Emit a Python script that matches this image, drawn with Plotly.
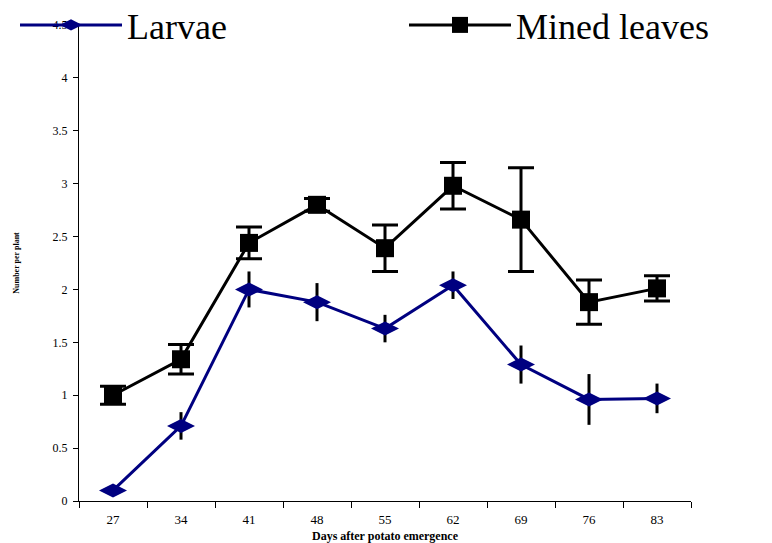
import plotly.graph_objects as go

days = ["27", "34", "41", "48", "55", "62", "69", "76", "83"]
larvae = [0.10, 0.71, 2.00, 1.88, 1.63, 2.04, 1.29, 0.96, 0.97]
larvae_err = [0.0, 0.13, 0.17, 0.18, 0.13, 0.13, 0.18, 0.24, 0.14]
mined = [1.00, 1.34, 2.44, 2.80, 2.39, 2.98, 2.66, 1.88, 2.01]
mined_err = [0.085, 0.14, 0.15, 0.06, 0.22, 0.22, 0.49, 0.21, 0.12]
y_ticks = [0, 0.5, 1, 1.5, 2, 2.5, 3, 3.5, 4, 4.5]

fig = go.Figure()
fig.add_trace(go.Scatter(
    x=days, y=larvae, name="Larvae", mode="lines+markers", legend="legend",
    line=dict(color="#000080", width=3),
    marker=dict(symbol="diamond-wide", size=20, color="#000080"),
    error_y=dict(type="data", array=larvae_err, color="black", thickness=3, width=0),
))
fig.add_trace(go.Scatter(
    x=days, y=mined, name="Mined leaves", mode="lines+markers", legend="legend2",
    line=dict(color="black", width=3),
    marker=dict(symbol="square", size=18, color="black"),
    error_y=dict(type="data", array=mined_err, color="black", thickness=3, width=13),
))

legend_font = dict(size=36, family="Liberation Serif", color="black")
fig.update_layout(
    width=772, height=543,
    margin=dict(l=79, r=81, t=25, b=42, autoexpand=False),
    paper_bgcolor="white", plot_bgcolor="white",
    font=dict(family="Liberation Serif", color="black"),
    showlegend=True,
    legend=dict(
        orientation="h", x=(15 - 79) / 612, xanchor="left", y=1.0, yanchor="middle",
        font=legend_font, bgcolor="rgba(0,0,0,0)", itemsizing="trace", itemwidth=102,
    ),
    legend2=dict(
        orientation="h", x=(404 - 79) / 612, xanchor="left", y=1.0, yanchor="middle",
        font=legend_font, bgcolor="rgba(0,0,0,0)", itemsizing="trace", itemwidth=102,
    ),
    xaxis=dict(
        type="category", range=[-0.5, 8.5],
        showline=True, linecolor="black", linewidth=1,
        ticks="outside", tickson="boundaries", ticklen=6, tickcolor="black",
        tickfont=dict(size=13, family="Liberation Serif"), ticklabelstandoff=6,
        showgrid=False, zeroline=False,
        title=dict(text="<b>Days after potato emergence</b>", font=dict(size=12), standoff=9),
    ),
    yaxis=dict(
        range=[0, 4.5], tickvals=y_ticks, ticktext=[str(v) for v in y_ticks],
        showline=True, linecolor="black", linewidth=1,
        ticks="outside", ticklen=5, tickcolor="black",
        tickfont=dict(size=12, family="Liberation Serif"), ticklabelstandoff=3,
        showgrid=False, zeroline=False,
        title=dict(text="<b>Number per plant</b>", font=dict(size=8), standoff=31),
    ),
)

fig.write_html("out.html")
